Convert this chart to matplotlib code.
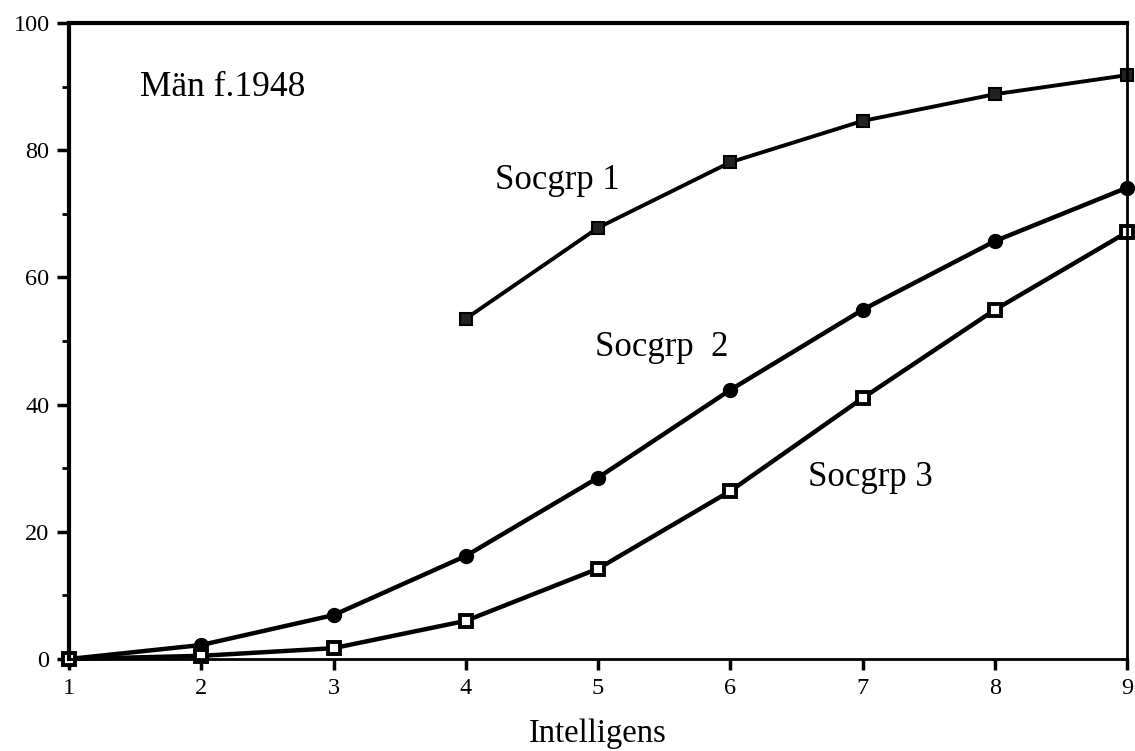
import matplotlib
matplotlib.use("Agg")
import matplotlib.pyplot as plt
from matplotlib.ticker import MultipleLocator

x1 = [4, 5, 6, 7, 8, 9]
y1 = [53.5, 67.8, 78.1, 84.6, 88.8, 91.8]
x2 = [1, 2, 3, 4, 5, 6, 7, 8, 9]
y2 = [0, 2.2, 6.9, 16.2, 28.5, 42.3, 54.9, 65.7, 74.1]
x3 = [1, 2, 3, 4, 5, 6, 7, 8, 9]
y3 = [0, 0.5, 1.7, 6.0, 14.2, 26.4, 41.0, 54.9, 67.1]
xticks = [1, 2, 3, 4, 5, 6, 7, 8, 9]
yticks = [0, 20, 40, 60, 80, 100]

plt.rcParams['font.family'] = ['Liberation Serif', 'DejaVu Serif']

fig = plt.figure(figsize=(11.35, 7.51), dpi=100)
ax = fig.add_axes([69/1135, (751-659)/751, (1127-69)/1135, (659-23)/751])

ax.plot(x1, y1, color='black', lw=2.8, marker='s', ms=9, mfc='#222222',
        mec='black', mew=1.5, zorder=3)
ax.plot(x2, y2, color='black', lw=3.2, marker='o', ms=10, mfc='black',
        mec='black', zorder=3)
ax.plot(x3, y3, color='black', lw=3.2, marker='s', ms=9, mfc='white',
        mec='black', mew=2.8, zorder=3)

ax.set_xlim(1, 9)
ax.set_ylim(0, 100)
ax.set_xticks(xticks)
ax.set_yticks(yticks)
ax.yaxis.set_minor_locator(MultipleLocator(10))
ax.tick_params(axis='y', which='major', direction='out', length=9, width=2.5,
               labelsize=17.5, pad=5)
ax.tick_params(axis='y', which='minor', direction='out', length=5, width=2)
ax.tick_params(axis='x', which='major', direction='out', length=8, width=2.5,
               labelsize=17.5, pad=6)

ax.spines['left'].set_linewidth(3)
ax.spines['top'].set_linewidth(3)
ax.spines['right'].set_linewidth(2)
ax.spines['bottom'].set_linewidth(2)
for s in ax.spines.values():
    s.set_zorder(4)

ax.text(1.54, 89.8, 'Män f.1948', fontsize=25.5, va='center', ha='left')
ax.text(4.22, 75.2, 'Socgrp 1', fontsize=25, va='center', ha='left')
ax.text(4.98, 48.9, 'Socgrp  2', fontsize=25, va='center', ha='left')
ax.text(6.59, 28.5, 'Socgrp 3', fontsize=25, va='center', ha='left')

ax.set_xlabel('Intelligens', fontsize=23.5, labelpad=14)
for line in ax.lines:
    line.set_clip_on(False)

fig.savefig('out.png', dpi=100, facecolor='white')
